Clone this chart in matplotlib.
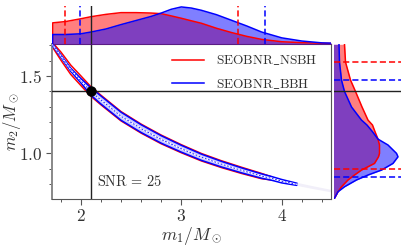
import numpy as np
import matplotlib
matplotlib.use('Agg')
import matplotlib.pyplot as plt
from matplotlib.ticker import MultipleLocator, FuncFormatter
from matplotlib.lines import Line2D

plt.rcParams['mathtext.fontset'] = 'cm'
plt.rcParams['font.family'] = 'serif'
plt.rcParams['font.serif'] = ['DejaVu Serif']

# ---------------- data ----------------
# 2D credible band along the m1-m2 degeneracy curve
band_m1 = [1.72, 1.80, 1.90, 2.00, 2.10, 2.20, 2.40, 2.60, 2.80, 3.00, 3.20,
           3.40, 3.60, 3.80, 3.90, 4.00, 4.15, 4.30, 4.50]
band_m2 = [1.70, 1.63, 1.54, 1.47, 1.40, 1.345, 1.24, 1.16, 1.09, 1.03, 0.975,
           0.93, 0.89, 0.853, 0.838, 0.82, 0.80, 0.78, 0.755]
nsbh_halfwidth = [0.015, 0.026, 0.030, 0.031, 0.031, 0.031, 0.030, 0.029, 0.028,
                  0.026, 0.024, 0.022, 0.020, 0.017, 0.010, 0, 0, 0, 0]
bbh_halfwidth = [0.006, 0.008, 0.010, 0.014, 0.024, 0.026, 0.026, 0.025, 0.024,
                 0.022, 0.020, 0.018, 0.016, 0.014, 0.012, 0.011, 0.007, 0, 0]
tail_halfwidth = [0, 0, 0, 0, 0, 0, 0, 0, 0, 0, 0, 0, 0, 0, 0, 0.010, 0.010,
                  0.009, 0.008]

# marginal of m1 (top panel)
m1_grid = [1.72, 1.85, 2.0, 2.1, 2.25, 2.4, 2.55, 2.7, 2.8, 2.9, 3.0, 3.1, 3.2,
           3.35, 3.5, 3.65, 3.8, 4.0, 4.2, 4.4, 4.5]
m1_nsbh = [0.42, 0.446, 0.50, 0.54, 0.586, 0.62, 0.62, 0.612, 0.60, 0.556, 0.51,
           0.46, 0.412, 0.314, 0.23, 0.156, 0.096, 0.05, 0.032, 0.02, 0.018]
m1_bbh = [0.192, 0.192, 0.206, 0.24, 0.30, 0.386, 0.466, 0.546, 0.612, 0.686,
          0.732, 0.71, 0.666, 0.58, 0.47, 0.36, 0.24, 0.126, 0.064, 0.028, 0.022]

# marginal of m2 (right panel)
m2_grid = [0.71, 0.752, 0.784, 0.828, 0.86, 0.892, 0.935, 0.978, 1.0, 1.054,
           1.092, 1.14, 1.183, 1.215, 1.30, 1.40, 1.474, 1.59, 1.705]
m2_nsbh = [0.04, 0.18, 0.32, 0.58, 0.84, 1.12, 1.64, 1.80, 1.84, 1.84, 1.78,
           1.66, 1.56, 1.38, 1.14, 0.88, 0.68, 0.48, 0.44]
m2_bbh = [0.04, 0.18, 0.44, 0.92, 1.38, 1.92, 2.38, 2.58, 2.52, 2.18, 1.78,
          1.56, 1.34, 1.12, 0.72, 0.44, 0.32, 0.24, 0.22]

# 90% credible bounds
m1_bounds_nsbh = [1.844, 3.565]
m1_bounds_bbh = [1.99, 3.834]
m2_bounds_nsbh = [0.897, 1.592]
m2_bounds_bbh = [0.849, 1.472]

# injected values
m1_true = 2.1
m2_true = 1.4

labels = [r'$\mathrm{SEOBNR\_NSBH}$', r'$\mathrm{SEOBNR\_BBH}$']
snr_label = r'$\mathrm{SNR}\,=\,25$'

# ---------------- figure ----------------
W, H = 407, 250
fig = plt.figure(figsize=(W / 100, H / 100), dpi=100)


def rect(x0, y0, x1, y1):
    return [x0 / W, 1 - y1 / H, (x1 - x0) / W, (y1 - y0) / H]


ax = fig.add_axes(rect(51.7, 44.3, 331, 199.3))
axt = fig.add_axes(rect(51.7, 5.5, 331, 44.3), sharex=ax)
axr = fig.add_axes(rect(333.5, 44.3, 401, 199.3), sharey=ax)

RED = '#ff0000'
BLUE = '#0000ff'
gray = '#555555'
txt = '#333333'


def band_polygon(xs, ys, hw):
    xs = np.asarray(xs); ys = np.asarray(ys); hw = np.asarray(hw)
    keep = hw > 0
    xs, ys, hw = xs[keep], ys[keep], hw[keep]
    px = np.concatenate([xs, xs[::-1]])
    py = np.concatenate([ys + hw, (ys - hw)[::-1]])
    return px, py


# faint tail
tx, ty = band_polygon(band_m1, band_m2, tail_halfwidth)
ax.fill(tx, ty, color='#f1eff9', lw=0, zorder=1)
# NSBH outer contour
rx, ry = band_polygon(band_m1, band_m2, nsbh_halfwidth)
ax.fill(rx, ry, facecolor='white', edgecolor=RED, lw=1.1, zorder=2)
# BBH contour
bx, by = band_polygon(band_m1, band_m2, bbh_halfwidth)
ax.fill(bx, by, facecolor='#c9c9ff', edgecolor=BLUE, lw=1.1, zorder=3)
# inner high-density ridge
ridge = np.asarray(bbh_halfwidth) > 0.005
ax.plot(np.asarray(band_m1)[ridge], np.asarray(band_m2)[ridge], color='white',
        lw=1.0, zorder=4)
ax.plot(np.asarray(band_m1)[ridge], np.asarray(band_m2)[ridge], color=BLUE,
        lw=0.6, dashes=(2, 2), zorder=4)

# truth lines
ax.axvline(m1_true, color='#222222', lw=1.0, zorder=5)
ax.axhline(m2_true, color='#222222', lw=1.0, zorder=5)
ax.plot([m1_true], [m2_true], 'o', color='black', ms=6.5, zorder=6)

ax.set_xlim(1.71, 4.49)
ax.set_ylim(0.703, 1.705)
ax.xaxis.set_major_locator(MultipleLocator(1.0))
ax.xaxis.set_minor_locator(MultipleLocator(0.2))
ax.yaxis.set_major_locator(MultipleLocator(0.5))
ax.yaxis.set_minor_locator(MultipleLocator(0.1))
ax.xaxis.set_major_formatter(FuncFormatter(lambda v, p: r'$%d$' % round(v)))
ax.yaxis.set_major_formatter(FuncFormatter(lambda v, p: r'$%.1f$' % v))
ax.tick_params(which='major', direction='out', length=4.5, width=0.8,
               color=gray, labelcolor=txt, labelsize=12.5, pad=2)
ax.tick_params(which='minor', direction='out', length=2.5, width=0.7,
               color=gray)
for s in ax.spines.values():
    s.set_color(gray)
    s.set_linewidth(0.8)
ax.spines['left'].set_linewidth(1.4)
ax.spines['left'].set_color('#888888')

ax.set_xlabel(r'$m_1/M_\odot$', fontsize=12.5, color=txt, labelpad=0)
ax.set_ylabel(r'$m_2/M_\odot$', fontsize=12, color=txt)
ax.yaxis.set_label_coords(-0.103, 0.5)

ax.text(2.16, 0.82, snr_label, fontsize=10.3, color=txt, va='center', ha='left',
        zorder=7)

handles = [Line2D([], [], color=RED, lw=1.1), Line2D([], [], color=BLUE, lw=1.1)]
leg = ax.legend(handles, labels, loc='upper right', frameon=False,
                fontsize=9.6, handlelength=2.4, handletextpad=0.85,
                labelspacing=0.72, borderaxespad=0.0, borderpad=0.0,
                bbox_to_anchor=(0.95, 0.94))
leg.set_zorder(8)
for t in leg.get_texts():
    t.set_color(txt)

# ---------------- top marginal ----------------
axt.fill_between(m1_grid, 0, m1_nsbh, color=RED, alpha=0.5, lw=0)
axt.fill_between(m1_grid, 0, m1_bbh, color=BLUE, alpha=0.5, lw=0)
axt.plot([m1_grid[0]] + m1_grid, [0] + m1_nsbh, color=RED, lw=1.1)
axt.plot([m1_grid[0]] + m1_grid, [0] + m1_bbh, color=BLUE, lw=1.1)
for v in m1_bounds_nsbh:
    axt.axvline(v, color=RED, lw=1.1, ls=(0, (4, 2)))
for v in m1_bounds_bbh:
    axt.axvline(v, color=BLUE, lw=1.1, ls=(0, (4, 2)))
axt.axvline(m1_true, color='#222222', lw=1.0)
axt.set_ylim(0, 0.76)
axt.axis('off')

# ---------------- right marginal ----------------
axr.fill_betweenx(m2_grid, 0, m2_nsbh, color=RED, alpha=0.5, lw=0)
axr.fill_betweenx(m2_grid, 0, m2_bbh, color=BLUE, alpha=0.5, lw=0)
axr.plot(m2_nsbh, m2_grid, color=RED, lw=1.1)
axr.plot(m2_bbh, m2_grid, color=BLUE, lw=1.1)
for v in m2_bounds_nsbh:
    axr.axhline(v, color=RED, lw=1.1, ls=(0, (4, 2)))
for v in m2_bounds_bbh:
    axr.axhline(v, color=BLUE, lw=1.1, ls=(0, (4, 2)))
axr.axhline(m2_true, color='#222222', lw=1.0)
axr.set_xlim(0, 2.7)
axr.axis('off')

ax.set_xlim(1.71, 4.49)
ax.set_ylim(0.703, 1.705)

fig.savefig('out.png', dpi=100)
